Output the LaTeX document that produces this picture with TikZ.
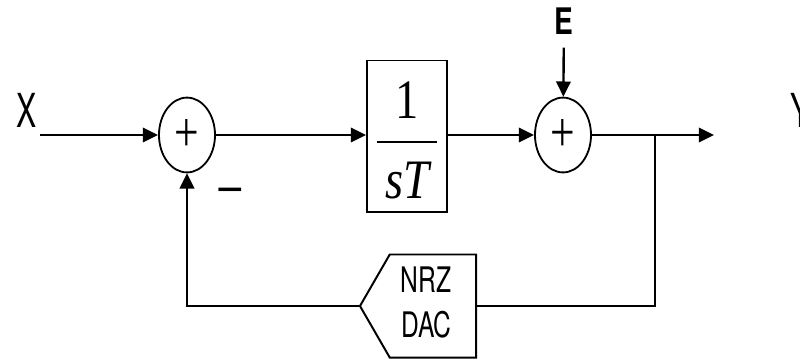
\RequirePackage{fix-cm}
\documentclass[tikz,border=0pt]{standalone}
\usepackage{fontspec}
\setmainfont{TeX Gyre Heros}
\newfontfamily\timesfont{Liberation Serif}
\usepackage{graphicx}
\usetikzlibrary{positioning, arrows.meta, shapes.geometric, shapes.symbols}

% testo allungato in verticale, come nell'originale
\newcommand{\stretchy}[2]{\scalebox{1}[#1]{#2}}

\begin{document}
\begin{tikzpicture}[
        x=0.025cm, y=-0.025cm,        % 1 unità = 1 px del disegno originale
        ->,                           % Freccia su tutti i percorsi
        >={Triangle[length=3.8mm, width=3.6mm]}, % Punta piena
        line width=1.7pt,             % Linee spesse
        sum/.style={                  % Nodi sommatori
            ellipse, draw, line width=1.3pt,
            minimum width=1.4cm, minimum height=1.87cm,
            inner sep=0pt, font=\timesfont\fontsize{31}{31}\selectfont
        },
        block/.style={                % Blocco integratore
            draw, line width=1.4pt,
            minimum width=2cm, minimum height=3.775cm
        },
        dacbox/.style={               % Blocco DAC a punta
            signal, signal to=west, signal pointer angle=120,
            draw, line width=1.4pt, inner sep=0pt,
            minimum width=2.9cm, minimum height=2.575cm,
            font=\fontsize{17.5}{22.3}\selectfont
        },
        sigtext/.style={inner sep=0pt, font=\fontsize{21.5}{21.5}\selectfont},
        fractext/.style={inner sep=0pt, font=\timesfont\fontsize{33}{33}\selectfont}
    ]

    \useasboundingbox (0,0) rectangle (800,358);

    % --- Segnali ---
    \node[sigtext] (X) at (27,110) {\stretchy{1.55}{X}};
    \node[sigtext] (Y) at (801,110) {\stretchy{1.55}{Y}};
    \node[sigtext, font=\fontsize{20}{20}\selectfont\bfseries] (E) at (564,21) {\stretchy{1.3}{E}};

    % --- Blocchi ---
    \node[sum] (S1) at (187,135) {\stretchy{1.3}{+}};
    \node[block] (G) at (407,136) {};
    \node[fractext] (num) at (407,100) {\stretchy{1.2}{1}};
    \node[fractext] (den) at (407,181) {\stretchy{1.2}{\itshape sT}};
    \draw[-, line width=1.2pt] (377,142) -- (437,142);
    \node[sum] (S2) at (563,135) {\stretchy{1.3}{+}};
    \node[dacbox, anchor=east] (DAC) at (477,306) {\stretchy{1.43}{\begin{tabular}{@{}c@{\hspace{0.33cm}}}NRZ\\DAC\end{tabular}}};
    \node[inner sep=0pt, font=\fontsize{36}{36}\selectfont] (minus) at (230,195) {−};

    \coordinate (in) at (40,135);
    \coordinate (out) at (714,135);
    \coordinate (branch) at (655,135);

    % --- Collegamenti ---
    \draw (in) -- (S1);
    \draw (S1) -- (S1 -| G.west);
    \draw (S1 -| G.east) -- (S2);
    \draw[shorten <=3mm] (E) -- (S2);
    \draw (S2) -- (out);
    \draw[-] (branch) |- (DAC.east);
    \draw (DAC.west) -| (S1.south);

\end{tikzpicture}
\end{document}
